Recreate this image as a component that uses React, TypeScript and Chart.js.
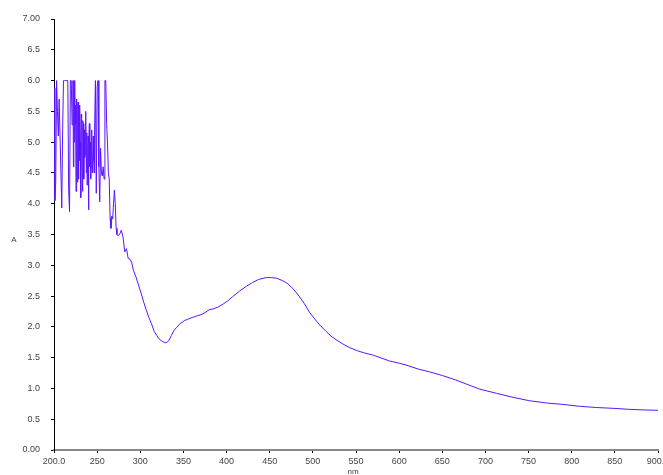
import React, { useEffect, useRef } from "react";
import { Chart, registerables } from "chart.js";

Chart.register(...registerables);

// Wavelength (nm) and absorbance (A)
const wavelengths: number[] = [
  200, 201, 202, 203, 204, 205, 206, 207, 208, 209,
  210, 211, 212, 213, 214, 215, 216, 217, 218, 219,
  220, 221, 222, 222.5, 223, 223.5, 224, 224.5, 225, 225.5,
  226, 226.5, 227, 227.5, 228, 228.5, 229, 229.5, 230, 230.5,
  231, 231.5, 232, 232.5, 233, 233.5, 234, 234.5, 235, 235.5,
  236, 236.5, 237, 237.5, 238, 238.5, 239, 239.5, 240, 240.5,
  241, 241.5, 242, 242.5, 243, 243.5, 244, 244.5, 245, 245.5,
  246, 246.5, 247, 248, 249, 250, 251, 252, 253, 254,
  255, 256, 257, 258, 259, 260, 261, 262, 263, 264,
  265, 266, 267, 268, 269, 270, 271, 272, 273, 274,
  276, 278, 280, 282, 284, 286, 288, 290, 292, 295,
  298, 301, 304, 307, 310, 313, 316, 319, 322, 325,
  328, 330, 333, 336, 339, 342, 346, 351, 356, 361,
  366, 371, 376, 380, 384, 390, 396, 402, 407, 415,
  423, 430, 437, 446, 452, 458, 465, 471, 477, 484,
  490, 496, 502, 508, 515, 521, 528, 535, 543, 552,
  560, 570, 580, 589, 600, 608, 622, 635, 650, 665,
  680, 693, 713, 732, 751, 771, 790, 809, 829, 848,
  867, 885, 900,
];

const absorbance: number[] = [
  5.88, 4.05, 4.35, 6.0, 5.5, 5.1, 5.7, 5.1, 5.1, 3.93,
  5.2, 6.0, 6.0, 6.0, 6.0, 6.0, 6.0, 4.22, 3.87, 6.0,
  6.0, 5.28, 6.0, 4.6, 6.0, 5.0, 6.0, 5.3, 5.6, 4.2,
  4.49, 5.7, 4.35, 5.6, 5.65, 4.4, 5.5, 4.7, 5.6, 5.0,
  4.1, 5.45, 5.4, 4.6, 4.2, 5.35, 5.3, 4.4, 5.2, 4.75,
  4.8, 5.5, 5.5, 4.5, 5.15, 4.3, 4.3, 5.1, 3.9, 5.0,
  5.3, 4.6, 5.0, 4.4, 4.6, 5.2, 4.9, 4.5, 4.5, 5.1,
  4.7, 4.5, 5.2, 6.0, 4.17, 5.9, 6.0, 4.6, 4.03, 4.9,
  4.5, 4.45, 4.6, 4.4, 6.0, 6.0, 5.3, 5.0, 4.5, 4.4,
  3.77, 3.6, 3.8, 3.75, 4.0, 4.22, 4.0, 3.6, 3.5, 3.48,
  3.5, 3.57, 3.46, 3.22, 3.27, 3.11, 3.1, 3.05, 2.92, 2.81,
  2.68, 2.545, 2.4, 2.27, 2.15, 2.05, 1.93, 1.86, 1.8, 1.77,
  1.745, 1.74, 1.775, 1.86, 1.94, 1.99, 2.05, 2.1, 2.13, 2.155,
  2.18, 2.2, 2.24, 2.28, 2.29, 2.32, 2.37, 2.43, 2.49, 2.58,
  2.66, 2.72, 2.77, 2.8, 2.8, 2.79, 2.75, 2.7, 2.62, 2.5,
  2.38, 2.24, 2.13, 2.03, 1.93, 1.85, 1.78, 1.72, 1.66, 1.61,
  1.575, 1.54, 1.49, 1.445, 1.41, 1.38, 1.315, 1.27, 1.21, 1.14,
  1.06, 0.99, 0.92, 0.855, 0.8, 0.763, 0.74, 0.71, 0.69, 0.677,
  0.66, 0.65, 0.645,
];

const xTicks: number[] = [200, 250, 300, 350, 400, 450, 500, 550, 600, 650, 700, 750, 800, 850, 900];
const yTicks: number[] = [0, 0.5, 1, 1.5, 2, 2.5, 3, 3.5, 4, 4.5, 5, 5.5, 6, 6.5, 7];
const xTitle = "nm";
const yTitle = "A";

const FONT = "Liberation Sans, Arial, sans-serif";

export default function App() {
  const ref = useRef<HTMLCanvasElement | null>(null);

  useEffect(() => {
    if (!ref.current) return;
    const titles = {
      id: "axisTitles",
      afterDraw(chart: any) {
        const ctx = chart.ctx;
        ctx.save();
        ctx.fillStyle = "#444";
        ctx.font = `8px ${FONT}`;
        ctx.textAlign = "center";
        ctx.textBaseline = "middle";
        ctx.fillText(yTitle, 14, 240);
        ctx.fillText(xTitle, 353, 472);
        ctx.restore();
      },
    };
    const chart = new Chart(ref.current, {
      type: "line",
      data: {
        datasets: [
          {
            data: wavelengths.map((w, i) => ({ x: w, y: absorbance[i] })),
            borderColor: "#5a14ff",
            borderWidth: 1,
            pointRadius: 0,
            tension: 0,
            fill: false,
          },
        ],
      },
      options: {
        animation: false,
        responsive: false,
        maintainAspectRatio: false,
        layout: { padding: { top: 19, right: 5, left: 0, bottom: 0 } },
        plugins: { legend: { display: false }, tooltip: { enabled: false } },
        scales: {
          x: {
            type: "linear",
            min: 200,
            max: 900,
            afterBuildTicks: (axis: any) => {
              axis.ticks = xTicks.map((v) => ({ value: v }));
            },
            afterFit: (axis: any) => {
              axis.height = 25;
              axis.paddingLeft = 0;
              axis.paddingRight = 0;
            },
            border: { color: "#888", width: 2 },
            grid: { drawOnChartArea: false, drawTicks: true, tickLength: 3, color: "#000" },
            ticks: {
              autoSkip: false,
              maxRotation: 0,
              padding: 3,
              color: "#444",
              font: { family: FONT, size: 9 },
              callback: (v: any) => (v === 200 || v === 900 ? Number(v).toFixed(1) : String(v)),
            },
          },
          y: {
            type: "linear",
            min: 0,
            max: 7,
            afterBuildTicks: (axis: any) => {
              axis.ticks = yTicks.map((v) => ({ value: v }));
            },
            afterFit: (axis: any) => {
              axis.width = 54;
              axis.paddingTop = 0;
              axis.paddingBottom = 0;
            },
            border: { color: "#000", width: 1 },
            grid: { drawOnChartArea: false, drawTicks: true, tickLength: 3, color: "#000" },
            ticks: {
              autoSkip: false,
              padding: 11,
              color: "#444",
              font: { family: FONT, size: 9 },
              callback: (v: any) => (v === 0 || v === 7 ? Number(v).toFixed(2) : Number(v).toFixed(1)),
            },
          },
        },
      },
      plugins: [titles],
    } as any);
    return () => chart.destroy();
  }, []);

  return (
    <div style={{ position: "fixed", left: 0, top: 0, width: 663, height: 475, background: "#fff" }}>
      <canvas ref={ref} width={663} height={475} style={{ width: 663, height: 475, display: "block" }} />
    </div>
  );
}
